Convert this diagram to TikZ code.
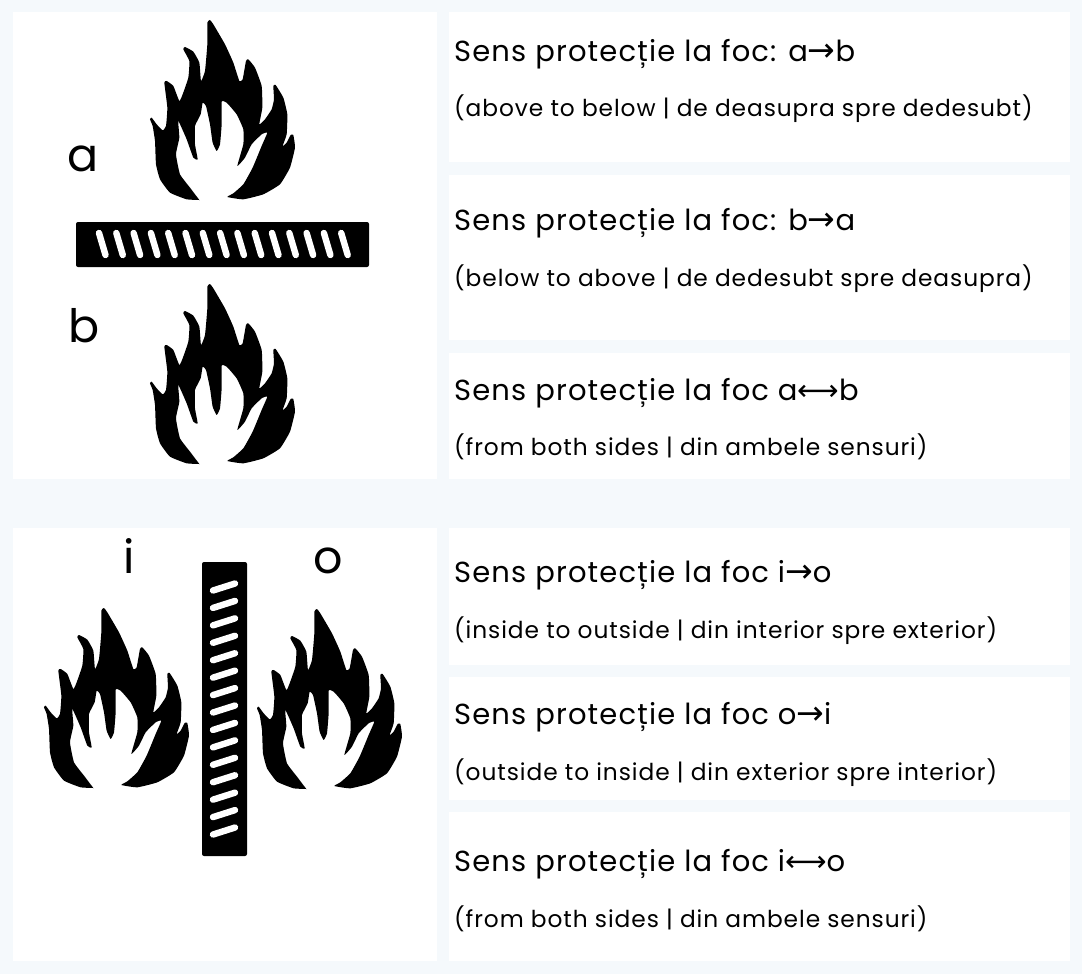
\documentclass[tikz,border=0pt]{standalone}
\usepackage{fontspec}
\setmainfont{Poppins}[LetterSpace=4]
\newfontfamily\arrowfont{DejaVu Sans}[Scale=1.14]
\newfontfamily\dblarrowfont{DejaVu Sans}
\definecolor{pagebg}{HTML}{F5F9FC}
\newcommand{\flamepath}{plot[smooth cycle,tension=0.25] coordinates {(208,567)(170,565)(120,545)(90,505)(78,460)(75,390)(68,345)(60,325)(65,320)(80,340)(98,358)(108,345)(112,290)(103,215)(110,210)(130,225)(148,270)(158,250)(175,200)(178,150)(160,115)(165,108)(190,122)(208,155)(213,210)(225,180)(232,100)(232,35)(240,27)(250,40)(285,100)(310,155)(328,210)(338,205)(348,150)(355,145)(375,170)(395,225)(397,290)(388,340)(405,325)(425,295)(432,265)(430,225)(437,222)(460,260)(472,310)(470,370)(458,405)(470,395)(482,372)(490,372)(495,410)(480,470)(450,520)(400,550)(340,565)(292,558)(310,547)(340,520)(368,470)(395,405)(412,365)(395,370)(365,400)(345,440)(322,465)(340,400)(340,355)(320,310)(290,275)(275,272)(275,340)(270,400)(260,420)(248,395)(240,340)(228,285)(218,275)(212,310)(195,345)(195,400)(203,445)(190,440)(170,385)(145,330)(148,380)(138,430)(150,490)(180,530)(208,567)}}
\tikzset{
  x=1pt,y=-1pt,
  panel/.style={fill=white,draw=none},
  flame/.style={fill=black,draw=none},
  bigtext/.style={anchor=base,inner sep=0pt,font=\fontsize{46}{46}\selectfont},
  titletext/.style={anchor=base west,inner sep=0pt,font=\fontsize{29}{34}\selectfont},
  subtext/.style={anchor=base west,inner sep=0pt,font=\fontsize{23.3}{28}\selectfont},
  slot/.style={draw=white,line width=6.4pt,line cap=round},
}
\newcommand{\R}{{\arrowfont\char"2192}}
\newcommand{\LR}{{\dblarrowfont\char"27F7}}
\begin{document}
\begin{tikzpicture}
\useasboundingbox (0,0) rectangle (1082,974);
\fill[pagebg] (0,0) rectangle (1082,974);
\fill[panel] (13,12) rectangle (437,479);
\fill[panel] (13,528) rectangle (437,961);
\fill[panel] (449,12) rectangle (1070,162);
\fill[panel] (449,175) rectangle (1070,340);
\fill[panel] (449,353) rectangle (1070,479);
\fill[panel] (449,528) rectangle (1070,665);
\fill[panel] (449,677) rectangle (1070,800);
\fill[panel] (449,812) rectangle (1070,961);
% flames
\begin{scope}[shift={(130,11)},x=0.3333pt,y=-0.3333pt]\fill[flame] \flamepath;\end{scope}
\begin{scope}[shift={(130,275)},x=0.3333pt,y=-0.3333pt]\fill[flame] \flamepath;\end{scope}
\begin{scope}[shift={(24,599)},x=0.3333pt,y=-0.3333pt]\fill[flame] \flamepath;\end{scope}
\begin{scope}[shift={(237,600)},x=0.3333pt,y=-0.3333pt]\fill[flame] \flamepath;\end{scope}
% horizontal bar
\fill[black,rounded corners=2pt] (76,222) rectangle (369,267);
\foreach \i in {0,...,14} \draw[slot] ({99+17.3*\i},233) -- ({105.5+17.3*\i},255);
% vertical bar
\fill[black,rounded corners=2pt] (202,562) rectangle (247,856);
\foreach \i in {0,...,14} \draw[slot] (213,{590.5+17.43*\i}) -- (235,{583.5+17.43*\i});
% letters
\node[bigtext] (la) at (83,171) {a};
\node[bigtext] (lb) at (84,342) {b};
\node[bigtext] (li) at (129,573) {i};
\node[bigtext] (lo) at (328,573) {o};
% texts
\node[titletext] (t1) at (454,62) {Sens protecție la foc: a\R b};
\node[subtext] (s1) at (454,116) {(above to below | de deasupra spre dedesubt)};
\node[titletext] (t2) at (454,230) {Sens protecție la foc: b\R a};
\node[subtext] (s2) at (454,286) {(below to above | de dedesubt spre deasupra)};
\node[titletext] (t3) at (454,400) {Sens protecție la foc a\LR b};
\node[subtext] (s3) at (454,455) {(from both sides | din ambele sensuri)};
\node[titletext] (t4) at (454,582) {Sens protecție la foc i\R o};
\node[subtext] (s4) at (454,638) {(inside to outside | din interior spre exterior)};
\node[titletext] (t5) at (454,724) {Sens protecție la foc o\R i};
\node[subtext] (s5) at (454,780) {(outside to inside | din exterior spre interior)};
\node[titletext] (t6) at (454,871) {Sens protecție la foc i\LR o};
\node[subtext] (s6) at (454,927) {(from both sides | din ambele sensuri)};
\end{tikzpicture}
\end{document}
